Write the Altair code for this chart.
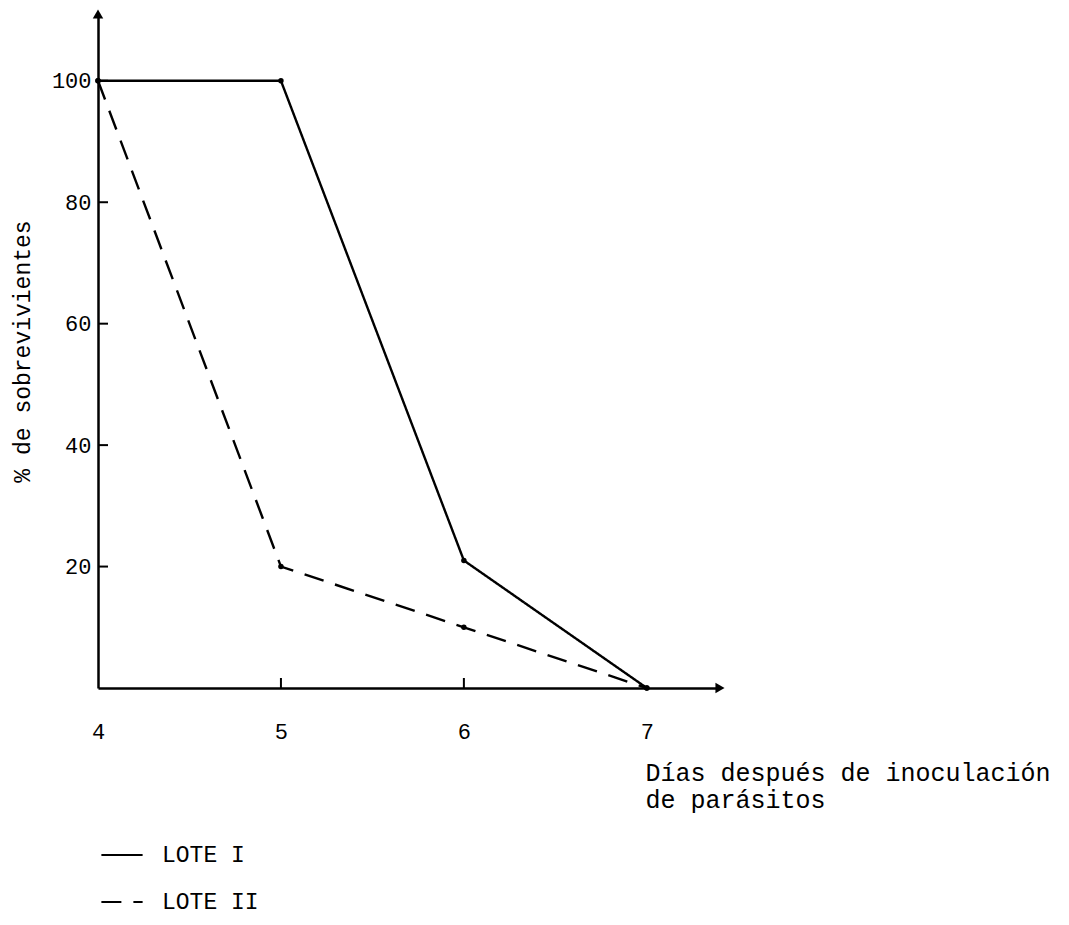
import altair as alt
import pandas as pd

dias = [4, 5, 6, 7]
lote1 = [100, 100, 21, 0]
lote2 = [100, 20, 10, 0]
series = ["LOTE I", "LOTE II"]
y_ticks = [20, 40, 60, 80, 100]
x_ticks = [4, 5, 6, 7]
x_inner_ticks = [5, 6]

rows = []
for d, v in zip(dias, lote1):
    rows.append({"dia": d, "pct": v, "lote": series[0]})
for d, v in zip(dias, lote2):
    rows.append({"dia": d, "pct": v, "lote": series[1]})
df = pd.DataFrame(rows)

XMAX = 7.4
YMAX = 111
FONT = "Liberation Mono"

xs = alt.Scale(domain=[4, XMAX], nice=False, zero=False)
ys = alt.Scale(domain=[0, YMAX], nice=False)

W, H = 622, 674

base = alt.Chart(df)

lines = base.mark_line(strokeWidth=2.4, color="black").encode(
    x=alt.X("dia:Q", scale=xs,
            axis=alt.Axis(values=x_ticks, format="d", ticks=False, grid=False, domainColor="black",
                          domainWidth=2.5, labelFont=FONT, labelFontSize=22, labelColor="black",
                          labelPadding=33, labelFlush=False,
                          title=["Días después de inoculación", "de parásitos"],
                          titleFont=FONT, titleFontSize=25, titleFontWeight="normal",
                          titleColor="black", titleAlign="left", titleAnchor="start",
                          titleX=547, titleY=72, titleBaseline="top", titleLineHeight=27)),
    y=alt.Y("pct:Q", scale=ys,
            axis=alt.Axis(values=y_ticks, format="d", ticks=False, grid=False, domainColor="black",
                          domainWidth=2.5, labelFont=FONT, labelFontSize=22, labelColor="black",
                          labelPadding=7,
                          title="% de sobrevivientes", titleFont=FONT, titleFontSize=23,
                          titleFontWeight="normal", titleColor="black",
                          titleX=-76, titleY=337, titleAngle=-90, titleAlign="center",
                          titleBaseline="middle")),
    strokeDash=alt.StrokeDash("lote:N", scale=alt.Scale(domain=series, range=[[1, 0], [20, 12]]),
                              legend=alt.Legend(title=None, orient="none", legendX=2, legendY=819,
                                                symbolType="stroke", symbolSize=1700,
                                                symbolStrokeWidth=2, symbolStrokeColor="black",
                                                labelFont=FONT, labelFontSize=23, labelColor="black",
                                                labelOffset=18, rowPadding=13)),
    detail="lote:N",
)

pts = base.mark_circle(size=30, color="black", opacity=1).encode(
    x=alt.X("dia:Q", scale=xs), y=alt.Y("pct:Q", scale=ys))

ytk = alt.Chart(pd.DataFrame({"v": y_ticks})).mark_rule(color="black", strokeWidth=2).encode(
    y=alt.Y("v:Q", scale=ys), x=alt.value(0), x2=alt.value(10))
xtk = alt.Chart(pd.DataFrame({"v": x_inner_ticks})).mark_rule(color="black", strokeWidth=2).encode(
    x=alt.X("v:Q", scale=xs), y=alt.value(H), y2=alt.value(H - 10))

arrows = alt.Chart(pd.DataFrame({"x": [4, XMAX], "y": [YMAX, 0],
                                 "shape": ["triangle-up", "triangle-right"]})).mark_point(
    filled=True, size=110, color="black", opacity=1).encode(
    x=alt.X("x:Q", scale=xs), y=alt.Y("y:Q", scale=ys), shape=alt.Shape("shape:N", scale=None))

chart = alt.layer(lines, pts, ytk, xtk, arrows).properties(
    width=W, height=H,
    autosize=alt.AutoSizeParams(type="none"),
    padding={"left": 90, "top": 6, "right": 341, "bottom": 245},
    background="white",
).configure_view(stroke=None)

chart.save("out.html", embed_options={"renderer": "svg", "actions": False})
